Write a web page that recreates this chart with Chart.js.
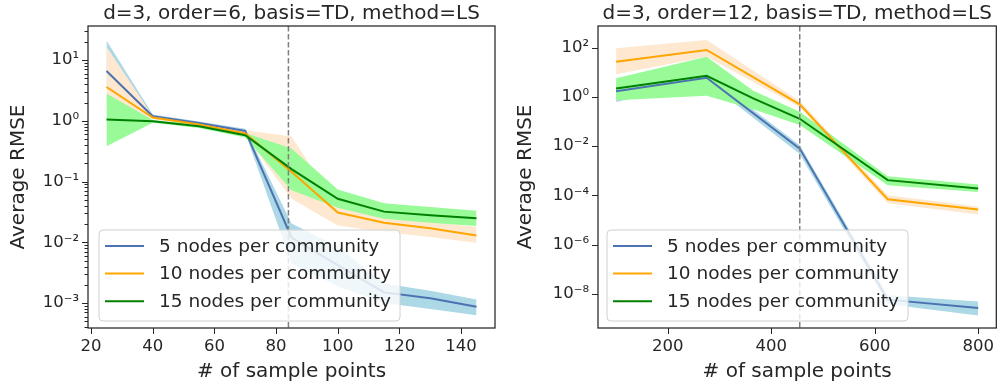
<!DOCTYPE html>
<html>
<head>
<meta charset="utf-8">
<script src="https://cdn.jsdelivr.net/npm/chart.js@4.4.1/dist/chart.umd.min.js"></script>
<style>
body { margin: 0; background: #fff; }
canvas { position: absolute; top: 0; }
#left { left: 0; }
#right { left: 500px; }
</style>
</head>
<body>
<canvas id="left" width="500" height="387"></canvas>
<canvas id="right" width="503" height="387"></canvas>
<script>
// ---- data ----
const seriesLabels = ['5 nodes per community', '10 nodes per community', '15 nodes per community'];

// order = 6
const xLeft = [25, 40, 55, 70, 85, 100, 115, 130, 145];
const left5 = [6.6, 1.19, 0.92, 0.68, 0.012, 0.0042, 0.0015, 0.0012, 0.00087];
const left5Lo = [3.5, 1.12, 0.87, 0.63, 0.0045, 0.0019, 0.001, 0.0008, 0.00063];
const left5Hi = [21, 1.27, 0.97, 0.74, 0.0204, 0.0085, 0.0021, 0.0016, 0.00115];
const left10 = [3.6, 1.13, 0.87, 0.62, 0.145, 0.031, 0.021, 0.017, 0.013];
const left10Lo = [1.6, 1.06, 0.82, 0.57, 0.052, 0.019, 0.0148, 0.0122, 0.0098];
const left10Hi = [16.6, 1.2, 0.92, 0.7, 0.55, 0.038, 0.026, 0.022, 0.0178];
const left15 = [1.05, 0.98, 0.81, 0.58, 0.16, 0.052, 0.032, 0.028, 0.025];
const left15Lo = [0.38, 0.93, 0.76, 0.53, 0.072, 0.037, 0.0245, 0.021, 0.0186];
const left15Hi = [2.8, 1.03, 0.86, 0.63, 0.35, 0.074, 0.044, 0.038, 0.033];
const cutLeft = 84;
const xTicksLeft = [20, 40, 60, 80, 100, 120, 140];
const yTicksLeft = [1e-3, 1e-2, 1e-1, 1, 10];

// order = 12
const xRight = [100, 275, 455, 625, 800];
const xRight15 = [100, 275, 365, 455, 625, 800];
const right5 = [1.7, 6.0, 0.008, 5.9e-9, 2.7e-9];
const right5Lo = [0.63, 4.2, 0.0048, 3.8e-9, 1.35e-9];
const right5Hi = [3.0, 8.5, 0.011, 8.9e-9, 5e-9];
const right10 = [27, 81, 0.5, 7e-5, 2.7e-5];
const right10Lo = [8.3, 43, 0.38, 4.8e-5, 1.7e-5];
const right10Hi = [95, 206, 0.68, 1.02e-4, 3.6e-5];
const right15 = [2.2, 7.2, 0.87, 0.13, 4.2e-4, 1.9e-4];
const right15Lo = [0.74, 1.12, 0.32, 0.072, 2.6e-4, 1.4e-4];
const right15Hi = [5.8, 43, 1.8, 0.25, 6e-4, 2.8e-4];
const cutRight = 455;
const xTicksRight = [200, 400, 600, 800];
const yTicksRight = [1e-8, 1e-6, 1e-4, 1e-2, 1, 1e2];

// ---- styling ----
const FONT = 'DejaVu Sans';
const INK = '#262626';
const lineColors = ['#4c72b0', '#ffa500', '#008000'];
const bandColors = ['#add8e6', '#fee8cf', '#98fb98'];

const SUP = {'-': '⁻', '0': '⁰', '1': '¹', '2': '²', '3': '³', '4': '⁴', '5': '⁵', '6': '⁶', '7': '⁷', '8': '⁸', '9': '⁹'};
function powLabel(v) {
    const e = Math.round(Math.log10(v));
    return '10' + String(e).split('').map(c => SUP[c]).join('');
}

function pts(x, y) {
    return x.map((v, i) => ({x: v, y: y[i]}));
}

function lineSet(x, y, k) {
    return {
        label: seriesLabels[k], data: pts(x, y),
        borderColor: lineColors[k], borderWidth: 2,
        pointRadius: 0, fill: false, tension: 0
    };
}

function bandSets(x, lo, hi, k) {
    return [
        {data: pts(x, hi), borderWidth: 0, pointRadius: 0, backgroundColor: bandColors[k], fill: '+1'},
        {data: pts(x, lo), borderWidth: 0, pointRadius: 0, fill: false}
    ];
}

const decor = {
    id: 'decor',
    afterDatasetsDraw(chart, args, o) {
        const {ctx, chartArea: a} = chart;
        const px = chart.scales.x.getPixelForValue(o.cut);
        ctx.save();
        ctx.strokeStyle = '#808080';
        ctx.lineWidth = 1.5;
        ctx.setLineDash([5.5, 2.5]);
        ctx.beginPath();
        ctx.moveTo(px, a.top);
        ctx.lineTo(px, a.bottom);
        ctx.stroke();
        ctx.restore();
    },
    afterDraw(chart, args, o) {
        const {ctx, chartArea: a, scales: {x, y}} = chart;
        ctx.save();
        // spines
        ctx.strokeStyle = INK;
        ctx.lineWidth = 1.25;
        ctx.strokeRect(a.left, a.top, a.right - a.left, a.bottom - a.top);
        // tick marks
        ctx.lineWidth = 1;
        ctx.beginPath();
        x.ticks.forEach(t => {
            const p = Math.round(x.getPixelForValue(t.value)) + 0.5;
            ctx.moveTo(p, a.bottom); ctx.lineTo(p, a.bottom + 6);
        });
        y.ticks.forEach(t => {
            const p = Math.round(y.getPixelForValue(t.value)) + 0.5;
            ctx.moveTo(a.left, p); ctx.lineTo(a.left - 6, p);
        });
        if (o.minor) {
            for (let e = -5; e <= 3; e++) {
                for (let k = 2; k <= 9; k++) {
                    const v = k * Math.pow(10, e);
                    if (v < y.min || v > y.max) continue;
                    const p = Math.round(y.getPixelForValue(v)) + 0.5;
                    ctx.moveTo(a.left, p); ctx.lineTo(a.left - 3.5, p);
                }
            }
        }
        ctx.stroke();

        // titles
        ctx.fillStyle = INK;
        ctx.font = '20px "' + FONT + '"';
        ctx.textAlign = 'center';
        ctx.textBaseline = 'middle';
        const cx = (a.left + a.right) / 2;
        ctx.fillText(o.title, cx, 14);
        ctx.fillText('# of sample points', cx, 372);
        ctx.save();
        ctx.translate(o.yTitleX, (a.top + a.bottom) / 2);
        ctx.rotate(-Math.PI / 2);
        ctx.fillText('Average RMSE', 0, 0);
        ctx.restore();

        // legend
        ctx.font = '18.5px "' + FONT + '"';
        const tw = Math.max(...seriesLabels.map(s => ctx.measureText(s).width));
        const bw = 6 + 39 + 15 + tw + 9, bh = 91;
        const bx = a.left + o.legendDx, by = a.bottom - 7 - bh;
        ctx.beginPath();
        ctx.roundRect(bx, by, bw, bh, 4);
        ctx.fillStyle = 'rgba(255,255,255,0.8)';
        ctx.fill();
        ctx.strokeStyle = '#d0d0d0';
        ctx.lineWidth = 1;
        ctx.stroke();
        ctx.textAlign = 'left';
        seriesLabels.forEach((s, i) => {
            const ry = by + 16 + i * 27.6;
            ctx.strokeStyle = lineColors[i];
            ctx.lineWidth = 2;
            ctx.beginPath();
            ctx.moveTo(bx + 6, ry); ctx.lineTo(bx + 45, ry);
            ctx.stroke();
            ctx.fillStyle = INK;
            ctx.fillText(s, bx + 60, ry + 1);
        });
        ctx.restore();
    }
};

function makeChart(el, p) {
    return new Chart(el, {
        type: 'line',
        data: {datasets: p.datasets},
        options: {
            responsive: false,
            animation: false,
            events: [],
            layout: {padding: {top: 26, right: p.padRight, left: 0, bottom: 0}},
            scales: {
                x: {
                    type: 'linear', min: p.xMin, max: p.xMax,
                    afterBuildTicks: s => { s.ticks = p.xTicks.map(v => ({value: v})); },
                    afterFit: s => { s.height = 59; },
                    grid: {display: false, drawTicks: false},
                    border: {display: false},
                    ticks: {color: INK, font: {family: FONT, size: 16.5}, padding: 9, maxRotation: 0, autoSkip: false}
                },
                y: {
                    type: 'logarithmic', min: p.yMin, max: p.yMax,
                    afterBuildTicks: s => { s.ticks = p.yTicks.map(v => ({value: v})); },
                    afterFit: s => { s.width = p.yWidth; },
                    grid: {display: false, drawTicks: false},
                    border: {display: false},
                    ticks: {color: INK, font: {family: FONT, size: 16.5}, padding: 9, autoSkip: false, callback: v => powLabel(v)}
                }
            },
            plugins: {
                legend: {display: false},
                tooltip: {enabled: false},
                decor: p.decor
            }
        },
        plugins: [decor]
    });
}

makeChart(document.getElementById('left'), {
    datasets: [
        lineSet(xLeft, left15, 2), lineSet(xLeft, left10, 1), lineSet(xLeft, left5, 0),
        ...bandSets(xLeft, left15Lo, left15Hi, 2),
        ...bandSets(xLeft, left10Lo, left10Hi, 1),
        ...bandSets(xLeft, left5Lo, left5Hi, 0)
    ],
    xMin: 19, xMax: 151, xTicks: xTicksLeft,
    yMin: Math.pow(10, -3.41), yMax: Math.pow(10, 1.56), yTicks: yTicksLeft,
    yWidth: 88, padRight: 5,
    decor: {cut: cutLeft, title: 'd=3, order=6, basis=TD, method=LS', minor: true, yTitleX: 19, legendDx: 11}
});

makeChart(document.getElementById('right'), {
    datasets: [
        lineSet(xRight15, right15, 2), lineSet(xRight, right10, 1), lineSet(xRight, right5, 0),
        ...bandSets(xRight15, right15Lo, right15Hi, 2),
        ...bandSets(xRight, right10Lo, right10Hi, 1),
        ...bandSets(xRight, right5Lo, right5Hi, 0)
    ],
    xMin: 65, xMax: 835, xTicks: xTicksRight,
    yMin: Math.pow(10, -9.38), yMax: Math.pow(10, 2.88), yTicks: yTicksRight,
    yWidth: 98, padRight: 1,
    decor: {cut: cutRight, title: 'd=3, order=12, basis=TD, method=LS', minor: false, yTitleX: 26, legendDx: 9}
});
</script>
</body>
</html>
